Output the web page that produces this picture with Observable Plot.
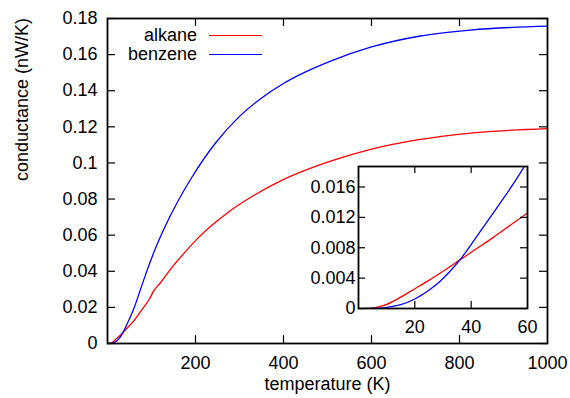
<!DOCTYPE html>
<html>
<head>
<meta charset="utf-8">
<script src="https://cdn.jsdelivr.net/npm/d3@7"></script>
<script src="https://cdn.jsdelivr.net/npm/@observablehq/plot@0.6"></script>
<style>
  html, body { margin: 0; padding: 0; background: white; }
  #wrap { position: relative; width: 570px; height: 398px; font-family: "Liberation Sans", Arial, sans-serif; }
  #wrap svg { position: absolute; }
  #legend { position: absolute; left: 0px; width: 262px; top: 26px; font-size: 18px; line-height: 19px; font-family: "Liberation Sans", Arial, sans-serif; }
  .row { display: flex; align-items: center; justify-content: flex-end; height: 19px; }
  .sw { display: inline-block; width: 53px; height: 0; border-top: 1.3px solid; margin-left: 12px; }
</style>
</head>
<body>
<div id="wrap"></div>
<script>
// ---- data (temperature K, conductance nW/K) ----
const alkaneT = [2, 5, 9, 15, 20, 25, 30, 36, 42, 48, 54, 60, 71, 85, 95, 100, 103, 120, 147, 175, 200, 240, 276, 336, 397, 450, 507, 598, 711, 825, 1000];
const alkaneG = [0, 0.00005, 0.0004, 0.0015, 0.0026, 0.0037, 0.0049, 0.0064, 0.0079, 0.0094, 0.0110, 0.0126, 0.0163, 0.0210, 0.0245, 0.0268, 0.0283, 0.0335, 0.0423, 0.0503, 0.0570, 0.0660, 0.0730, 0.0825, 0.0905, 0.0960, 0.1010, 0.1075, 0.1130, 0.1165, 0.1190];
const benzeneT = [3, 8, 11, 15, 20, 25, 29, 33, 36, 42, 49, 56, 60, 75, 90, 110, 132, 160, 190, 245, 300, 348, 400, 435, 507, 598, 711, 825, 1000];
const benzeneG = [0, 0.00005, 0.0002, 0.0005, 0.00125, 0.0024, 0.0036, 0.0051, 0.0064, 0.0095, 0.0132, 0.0170, 0.0194, 0.0300, 0.0405, 0.0533, 0.0654, 0.0788, 0.0914, 0.1109, 0.1258, 0.1356, 0.1440, 0.1486, 0.1564, 0.1641, 0.1703, 0.1736, 0.1758];
const seriesNames = ["alkane", "benzene"];
const seriesColors = ["#ff0000", "#0000ff"];

const mainXLabels = [200, 400, 600, 800, 1000];
const mainXTicks = [200, 400, 600, 800];
const mainYTicks = [0, 0.02, 0.04, 0.06, 0.08, 0.1, 0.12, 0.14, 0.16, 0.18];
const insetXLabels = [20, 40, 60];
const insetXTicks = [20, 40];
const insetYTicks = [0, 0.004, 0.008, 0.012, 0.016];

const alkane = alkaneT.map((t, i) => ({t, g: alkaneG[i], s: seriesNames[0]}));
const benzene = benzeneT.map((t, i) => ({t, g: benzeneG[i], s: seriesNames[1]}));
const data = alkane.concat(benzene);

const fmt = d => String(+d.toFixed(3));
const font = '"Liberation Sans", Arial, sans-serif';
const FS = 18;

// ---- main chart ----
const M = {l: 107, r: 23, t: 18, b: 55};
const W = 570, H = 398;
const fw = W - M.l - M.r, fh = H - M.t - M.b;
const tk = 8;

const main = Plot.plot({
  width: W, height: H,
  marginLeft: M.l, marginRight: M.r, marginTop: M.t, marginBottom: M.b,
  style: {fontFamily: font, fontSize: FS + "px", color: "black", background: "transparent"},
  x: {domain: [0, 1000]},
  y: {domain: [0, 0.18]},
  color: {domain: seriesNames, range: seriesColors},
  marks: [
    Plot.frame({fill: "white"}),
    Plot.line(data, {x: "t", y: "g", z: "s", stroke: "s", strokeWidth: 1.3, curve: "monotone-x"}),
    Plot.tickX(mainXTicks, {x: d => d, insetTop: fh - tk, strokeWidth: 1.2}),
    Plot.tickX(mainXTicks, {x: d => d, insetBottom: fh - tk, strokeWidth: 1.2}),
    Plot.tickY(mainYTicks, {y: d => d, insetRight: fw - tk, strokeWidth: 1.2}),
    Plot.tickY(mainYTicks, {y: d => d, insetLeft: fw - tk, strokeWidth: 1.2}),
    Plot.axisX(mainXLabels, {tickSize: 0, tickPadding: 13, label: null, tickFormat: fmt, fontSize: FS}),
    Plot.axisY(mainYTicks, {tickSize: 0, tickPadding: 10, label: null, tickFormat: fmt, fontSize: FS}),
    Plot.text(["temperature (K)"], {frameAnchor: "bottom", dy: 46, fontSize: FS}),
    Plot.text(["conductance (nW/K)"], {frameAnchor: "left", rotate: -90, dx: -85, fontSize: FS}),
    Plot.frame({stroke: "black", strokeWidth: 1.8})
  ]
});
main.style.left = "0px"; main.style.top = "0px";

// ---- inset ----
const IM = {l: 68, r: 4, t: 6, b: 34};
const ifw = 169, ifh = 142;
const itk = 7;
const inset = Plot.plot({
  width: IM.l + ifw + IM.r, height: IM.t + ifh + IM.b,
  marginLeft: IM.l, marginRight: IM.r, marginTop: IM.t, marginBottom: IM.b,
  style: {fontFamily: font, fontSize: FS + "px", color: "black", background: "transparent", overflow: "visible"},
  x: {domain: [0, 60]},
  y: {domain: [0, 0.0187]},
  color: {domain: seriesNames, range: seriesColors},
  marks: [
    Plot.frame({fill: "white"}),
    Plot.line(data.filter(d => d.t <= 75), {x: "t", y: "g", z: "s", stroke: "s", strokeWidth: 1.3, curve: "monotone-x", clip: true}),
    Plot.tickX(insetXTicks, {x: d => d, insetTop: ifh - itk, strokeWidth: 1.2}),
    Plot.tickX(insetXTicks, {x: d => d, insetBottom: ifh - itk, strokeWidth: 1.2}),
    Plot.tickY(insetYTicks, {y: d => d, insetRight: ifw - itk, strokeWidth: 1.2}),
    Plot.tickY(insetYTicks, {y: d => d, insetLeft: ifw - itk, strokeWidth: 1.2}),
    Plot.axisX(insetXLabels, {tickSize: 0, tickPadding: 12, label: null, tickFormat: fmt, fontSize: FS}),
    Plot.axisY(insetYTicks, {tickSize: 0, tickPadding: 3, label: null, tickFormat: fmt, fontSize: FS}),
    Plot.frame({stroke: "black", strokeWidth: 1.8})
  ]
});
inset.style.left = "290px"; inset.style.top = "160px";

const wrap = document.getElementById("wrap");
wrap.appendChild(main);
wrap.appendChild(inset);

// legend (HTML)
const lg = document.createElement("div");
lg.id = "legend";
seriesNames.forEach((n, i) => {
  const row = document.createElement("div");
  row.className = "row";
  const s = document.createElement("span"); s.textContent = n;
  const sw = document.createElement("span"); sw.className = "sw"; sw.style.borderTopColor = seriesColors[i];
  row.appendChild(s); row.appendChild(sw);
  lg.appendChild(row);
});
wrap.appendChild(lg);
</script>
</body>
</html>
